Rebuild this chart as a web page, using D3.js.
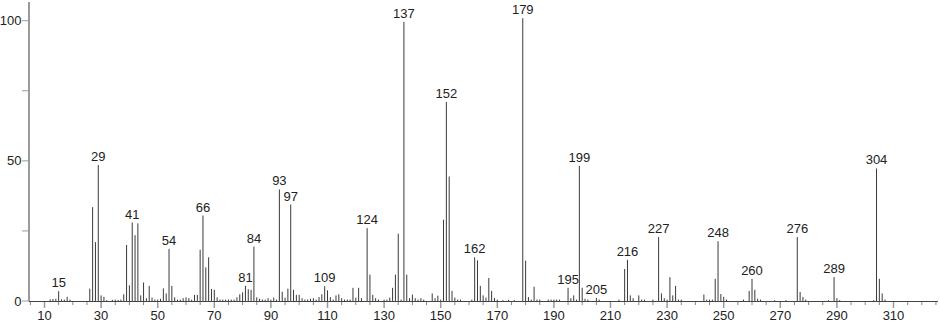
<!DOCTYPE html>
<html>
<head>
<meta charset="utf-8">
<script src="https://cdn.jsdelivr.net/npm/d3@7"></script>
<style>
  body { margin: 0; background: #fff; }
  #container { width: 940px; height: 323px; }
</style>
</head>
<body>
<div id="container"></div>
<script>
// m/z values and relative intensities
const mz = [12, 13, 14, 15, 16, 17, 18, 19, 26, 27, 28, 29, 30, 31, 32, 34, 35, 36, 37, 38, 39, 40, 41, 42, 43, 44, 45, 46, 47, 48, 49,
  50, 51, 52, 53, 54, 55, 56, 57, 58, 59, 60, 61, 62, 63, 64, 65, 66, 67, 68, 69, 70, 71, 72, 73, 74, 75, 76, 77, 78, 79,
  80, 81, 82, 83, 84, 85, 86, 87, 88, 89, 90, 91, 92, 93, 94, 95, 96, 97, 98, 99, 100, 101, 102, 103, 104, 105, 106, 107, 108, 109,
  110, 111, 112, 113, 114, 115, 116, 117, 118, 119, 120, 121, 122, 124, 125, 126, 127, 128, 130, 131, 132, 133, 134, 135, 136, 137, 138, 139,
  140, 141, 142, 143, 144, 147, 148, 149, 150, 151, 152, 153, 154, 155, 156, 157, 161, 162, 163, 164, 165, 166, 167, 168, 169,
  170, 172, 174, 176, 179, 180, 181, 182, 183, 184, 185, 188, 189, 190, 191, 192, 195, 196, 197, 198, 199,
  200, 201, 202, 205, 206, 213, 215, 216, 217, 218, 220, 221, 222, 225, 227, 228, 229, 230, 231, 232, 233, 234, 235,
  243, 244, 245, 246, 247, 248, 249, 250, 251, 257, 259, 260, 261, 262, 263, 268, 272, 276, 277, 278, 279,
  287, 289, 290, 291, 303, 304, 305, 306, 307];
const intensity = [0.6, 0.7, 0.8, 3.5, 0.6, 0.5, 1.5, 0.5, 4.4, 33.5, 21, 48.5, 2, 1.5, 0.3, 0.4, 0.5, 0.4, 0.5, 2.4, 20, 5.6, 28, 23.5, 27.7, 2, 6.6, 1, 5.4, 1.2, 0.5,
  0.5, 0.8, 4.5, 2.7, 18.6, 5.4, 1.3, 0.5, 0.5, 1, 1.3, 1, 0.5, 2.2, 2.2, 18.3, 30.5, 12, 15.6, 4.3, 4, 1.3, 0.5, 0.5, 0.5, 0.5, 0.5, 0.5, 1.3, 2.4,
  3.1, 5.4, 4.2, 4, 19.4, 1.3, 0.8, 0.5, 0.5, 1, 0.5, 1.2, 0.5, 39.8, 3.3, 1.2, 4.4, 34.4, 4, 2.2, 2.2, 1, 0.5, 0.5, 0.8, 1, 0.5, 1.4, 2.4, 5.3,
  3.8, 1.4, 0.5, 2, 2.4, 1, 0.5, 0.5, 0.5, 4.7, 1.2, 4.7, 1, 26, 9.4, 2.2, 1, 0.5, 0.5, 0.5, 1.2, 4.7, 9.4, 24, 0.5, 99.6, 9.4, 1,
  2.3, 1, 0.5, 1, 0.5, 2.7, 1, 1.9, 0.5, 29, 71, 44.4, 3.6, 1.2, 0.5, 0.5, 0.5, 15.6, 14.5, 5.4, 2, 1.2, 8.2, 3.6, 1.1,
  0.5, 0.3, 0.4, 0.3, 100.9, 14.4, 1.4, 0.5, 5.1, 0.5, 0.5, 0.5, 0.5, 0.5, 0.5, 0.5, 4.7, 1, 2, 0.5, 48.2,
  4.7, 0.8, 0.5, 1.1, 0.5, 0.5, 11.4, 14.7, 2, 1, 2, 0.5, 0.5, 0.5, 22.8, 2.7, 1, 0.5, 8.5, 2, 5.4, 0.5, 0.5,
  2.3, 0.5, 0.5, 0.5, 7.9, 21.3, 2.5, 1.5, 0.5, 0.5, 3.6, 7.9, 4, 0.8, 0.5, 0.3, 0.3, 22.8, 3.2, 1.4, 0.5,
  0.3, 8.5, 1, 0.3, 0.3, 47.3, 7.9, 2.7, 0.5];
// peaks that carry their m/z as a label
const labelled = [15, 29, 41, 54, 66, 81, 84, 93, 97, 109, 124, 137, 152, 162, 179, 195, 199, 205, 216, 227, 248, 260, 276, 289, 304];
const xTicks = d3.range(10, 311, 20);
const yTicks = [0, 50, 100];

const width = 940, height = 323;
const font = "'Liberation Sans', Arial, sans-serif";

const peaks = mz.map((m, i) => ({ mz: m, value: intensity[i] }));

const x = d3.scaleLinear().domain([10, 310]).range([44.5, 893.5]);
const y = d3.scaleLinear().domain([0, 100]).range([301, 20.7]);

const svg = d3.create("svg")
  .attr("width", width)
  .attr("height", height)
  .attr("viewBox", [0, 0, width, height])
  .style("font-family", font);

// y axis: grey line with small ticks
svg.append("line")
  .attr("x1", 29).attr("x2", 29)
  .attr("y1", 2).attr("y2", 301)
  .attr("stroke", "#9a9a9a")
  .attr("stroke-width", 2);

svg.append("g")
  .selectAll("line")
  .data(d3.range(0, 101, 25))
  .join("line")
  .attr("x1", 22).attr("x2", 29)
  .attr("y1", (d) => y(d)).attr("y2", (d) => y(d))
  .attr("stroke", "#9a9a9a");

svg.append("g")
  .attr("text-anchor", "end")
  .selectAll("text")
  .data(yTicks)
  .join("text")
  .attr("x", 21.5)
  .attr("y", (d) => y(d))
  .attr("dy", "0.35em")
  .attr("font-size", 13)
  .attr("fill", "#222")
  .text((d) => d);

// x axis baseline and ticks
svg.append("line")
  .attr("x1", 29).attr("x2", 938)
  .attr("y1", 301.5).attr("y2", 301.5)
  .attr("stroke", "#444");

svg.append("g")
  .selectAll("line")
  .data(d3.range(5, 326, 5).filter((d) => (d - 10) % 20 !== 0))
  .join("line")
  .attr("x1", (d) => x(d)).attr("x2", (d) => x(d))
  .attr("y1", 302).attr("y2", 305)
  .attr("stroke", "#888");

svg.append("g")
  .selectAll("line")
  .data(xTicks)
  .join("line")
  .attr("x1", (d) => x(d)).attr("x2", (d) => x(d))
  .attr("y1", 302).attr("y2", 308)
  .attr("stroke", "#9a9a9a")
  .attr("stroke-width", 1.5);

svg.append("g")
  .attr("text-anchor", "middle")
  .selectAll("text")
  .data(xTicks)
  .join("text")
  .attr("x", (d) => x(d))
  .attr("y", 320)
  .attr("font-size", 13)
  .attr("fill", "#222")
  .text((d) => d);

// the peaks
svg.append("g")
  .selectAll("line")
  .data(peaks)
  .join("line")
  .attr("x1", (d) => x(d.mz)).attr("x2", (d) => x(d.mz))
  .attr("y1", 301).attr("y2", (d) => y(d.value))
  .attr("stroke", "#3a3a3a")
  .attr("stroke-width", 1);

svg.append("g")
  .attr("text-anchor", "middle")
  .selectAll("text")
  .data(peaks.filter((d) => labelled.includes(d.mz)))
  .join("text")
  .attr("x", (d) => x(d.mz))
  .attr("y", (d) => y(d.value) - 4)
  .attr("font-size", 13)
  .attr("fill", "#222")
  .text((d) => d.mz);

document.querySelector("#container").append(svg.node());
</script>
</body>
</html>
